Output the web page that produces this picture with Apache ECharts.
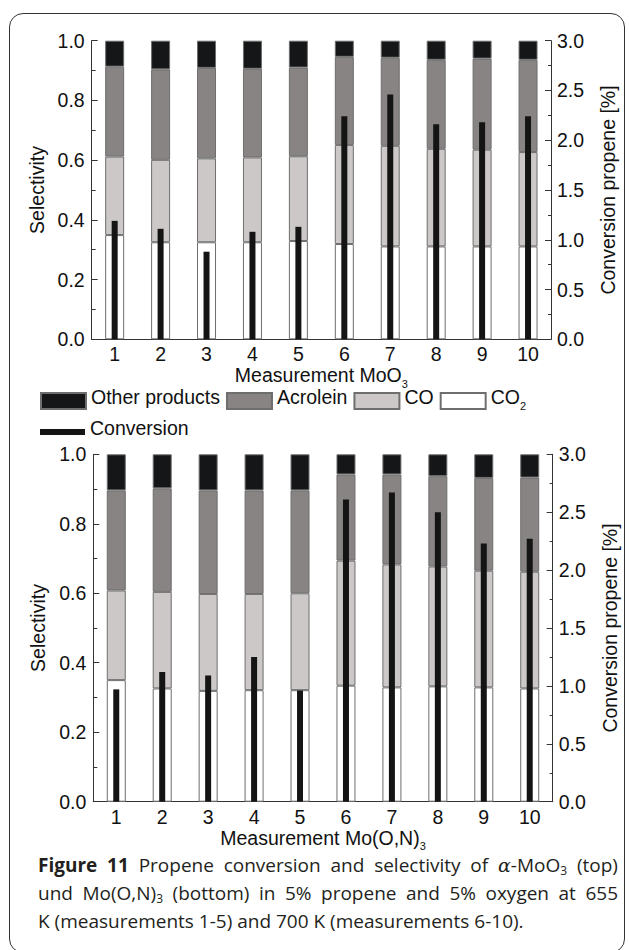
<!DOCTYPE html>
<html>
<head>
<meta charset="utf-8">
<script src="https://cdn.jsdelivr.net/npm/echarts@6/dist/echarts.min.js"></script>
<style>
  html, body { margin: 0; padding: 0; background: #fff; }
  #wrap { position: relative; width: 629px; height: 950px; overflow: hidden; }
  #chart { position: absolute; left: 0; top: 0; width: 629px; height: 950px; }
  #frame { position: absolute; left: 9px; top: 13px; width: 616px; height: 940px;
           border: 1.5px solid #333; border-radius: 14px; box-sizing: border-box; pointer-events: none; }
  #caption { position: absolute; left: 38px; top: 851px; width: 580px; font-family: "Open Sans", sans-serif;
             font-size: 19px; line-height: 28px; color: #231f20; }
  #caption .j { text-align: justify; text-align-last: justify; white-space: nowrap; }
  #caption .l { text-align: left; white-space: nowrap; }
  #caption b { font-weight: 700; }
  #caption sub { font-size: 12px; vertical-align: -3px; line-height: 0; }
</style>
</head>
<body>
<div id="wrap">
  <div id="chart"></div>
  <div id="frame"></div>
  <div id="caption">
    <div class="j"><b>Figure 11</b> Propene conversion and selectivity of <i style="font-family:'DejaVu Serif',serif">α</i>-MoO<sub>3</sub> (top)</div>
    <div class="j">und Mo(O,N)<sub>3</sub> (bottom) in 5% propene and 5% oxygen at 655</div>
    <div class="l">K (measurements 1-5) and 700 K (measurements 6-10).</div>
  </div>
</div>
<script>
// ---- data ----
const categories = ['1', '2', '3', '4', '5', '6', '7', '8', '9', '10'];
const selectivityTicks = [0, 0.2, 0.4, 0.6, 0.8, 1.0];
const conversionTicks = [0, 0.5, 1.0, 1.5, 2.0, 2.5, 3.0];

// top panel: alpha-MoO3
const co2Top       = [0.349, 0.325, 0.325, 0.325, 0.329, 0.319, 0.311, 0.311, 0.311, 0.311];
const coTop        = [0.263, 0.276, 0.281, 0.284, 0.284, 0.332, 0.337, 0.327, 0.324, 0.316];
const acroleinTop  = [0.301, 0.303, 0.303, 0.297, 0.297, 0.295, 0.295, 0.298, 0.305, 0.309];
const otherTop     = [0.087, 0.096, 0.091, 0.094, 0.090, 0.054, 0.057, 0.064, 0.060, 0.064];
const conversionTop = [1.19, 1.11, 0.88, 1.08, 1.13, 2.24, 2.46, 2.16, 2.18, 2.24];

// bottom panel: Mo(O,N)3
const co2Bottom      = [0.350, 0.326, 0.319, 0.321, 0.321, 0.334, 0.329, 0.332, 0.329, 0.326];
const coBottom       = [0.258, 0.278, 0.279, 0.277, 0.279, 0.360, 0.354, 0.345, 0.336, 0.336];
const acroleinBottom = [0.288, 0.298, 0.298, 0.298, 0.296, 0.248, 0.259, 0.260, 0.267, 0.271];
const otherBottom    = [0.104, 0.098, 0.104, 0.104, 0.104, 0.058, 0.058, 0.063, 0.068, 0.067];
const conversionBottom = [0.97, 1.12, 1.09, 1.25, 0.96, 2.61, 2.67, 2.50, 2.23, 2.27];

// ---- styling ----
const FONT = 'Liberation Sans';
const FS = 19.5;
const AX = '#333';
const TXT = '#111';
const colors = { other: '#151617', acrolein: '#878483', co: '#cbc8c7', co2: '#ffffff', conv: '#141414' };
const border = { borderColor: '#6e6e6e', borderWidth: 1 };
const richSub = {
  m: { fontFamily: FONT, fontSize: FS, color: TXT, lineHeight: 20, padding: [0, 0, 4, 0], verticalAlign: 'bottom' },
  sub: { fontFamily: FONT, fontSize: 11, color: TXT, lineHeight: 11, verticalAlign: 'bottom' }
};

const chart = echarts.init(document.getElementById('chart'), null, { renderer: 'svg' });

const grids = [
  { left: 91.7, top: 40.7, width: 459.3, height: 298.6, outerBoundsMode: 'none', containLabel: false },
  { left: 93.3, top: 454.3, width: 459.4, height: 347.4, outerBoundsMode: 'none', containLabel: false }
];
const axisNames = ['{m|Measurement MoO}{sub|3}', '{m|Measurement Mo(O,N)}{sub|3}'];
const nameGaps = [12, 15];

const xAxis = [], yAxis = [];
grids.forEach((g, i) => {
  xAxis.push({
    type: 'category', gridIndex: i, data: categories, position: 'bottom',
    boundaryGap: true,
    axisLine: { lineStyle: { color: AX, width: 1 } },
    axisTick: { inside: true, length: 4, alignWithLabel: false, lineStyle: { color: AX } },
    axisLabel: { color: TXT, fontFamily: FONT, fontSize: FS, margin: 5 },
    name: axisNames[i], nameLocation: 'middle', nameGap: nameGaps[i],
    nameTextStyle: { color: TXT, fontFamily: FONT, fontSize: FS, rich: richSub }
  });
  xAxis.push({
    type: 'category', gridIndex: i, data: categories, position: 'top',
    boundaryGap: true,
    axisLine: { lineStyle: { color: AX, width: 1 } },
    axisTick: { inside: true, length: 4, alignWithLabel: false, lineStyle: { color: AX } },
    axisLabel: { show: false }
  });
  yAxis.push({
    type: 'value', gridIndex: i, min: selectivityTicks[0], max: selectivityTicks[selectivityTicks.length - 1], interval: 0.2,
    position: 'left',
    axisLine: { show: true, lineStyle: { color: AX, width: 1 } },
    axisTick: { show: true, inside: true, length: 6, lineStyle: { color: AX } },
    minorTick: { show: true, splitNumber: 2, length: 4, lineStyle: { color: AX } },
    splitLine: { show: false },
    axisLabel: { color: TXT, fontFamily: FONT, fontSize: FS, margin: 7, formatter: v => v.toFixed(1) },
    name: 'Selectivity', nameLocation: 'middle', nameGap: 42, nameRotate: 90,
    nameTextStyle: { color: TXT, fontFamily: FONT, fontSize: FS }
  });
  yAxis.push({
    type: 'value', gridIndex: i, min: conversionTicks[0], max: conversionTicks[conversionTicks.length - 1], interval: 0.5,
    position: 'right',
    axisLine: { show: true, lineStyle: { color: AX, width: 1 } },
    axisTick: { show: true, inside: true, length: 6, lineStyle: { color: AX } },
    minorTick: { show: true, splitNumber: 2, length: 3, lineStyle: { color: AX } },
    splitLine: { show: false },
    axisLabel: { color: TXT, fontFamily: FONT, fontSize: FS, margin: 6, formatter: v => v.toFixed(1) },
    name: 'Conversion propene [%]', nameLocation: 'middle', nameGap: 47, nameRotate: 90,
    nameTextStyle: { color: TXT, fontFamily: FONT, fontSize: FS }
  });
});

const panels = [
  { co2: co2Top, co: coTop, acr: acroleinTop, oth: otherTop, conv: conversionTop },
  { co2: co2Bottom, co: coBottom, acr: acroleinBottom, oth: otherBottom, conv: conversionBottom }
];
const series = [];
panels.forEach((p, i) => {
  const xi = i * 2, yi = i * 2;
  const st = 'stack' + i;
  series.push({ name: 'CO2', type: 'bar', xAxisIndex: xi, yAxisIndex: yi, stack: st, barWidth: 19, data: p.co2,
    itemStyle: Object.assign({ color: colors.co2 }, border) });
  series.push({ name: 'CO', type: 'bar', xAxisIndex: xi, yAxisIndex: yi, stack: st, barWidth: 19, data: p.co,
    itemStyle: Object.assign({ color: colors.co }, border) });
  series.push({ name: 'Acrolein', type: 'bar', xAxisIndex: xi, yAxisIndex: yi, stack: st, barWidth: 19, data: p.acr,
    itemStyle: Object.assign({ color: colors.acrolein }, border) });
  series.push({ name: 'Other products', type: 'bar', xAxisIndex: xi, yAxisIndex: yi, stack: st, barWidth: 19, data: p.oth,
    itemStyle: Object.assign({ color: colors.other }, border) });
  series.push({ name: 'Conversion', type: 'bar', xAxisIndex: xi + 1, yAxisIndex: yi + 1, barWidth: 6, data: p.conv,
    itemStyle: { color: colors.conv } });
});

const legendText = { color: TXT, fontFamily: FONT, fontSize: FS, rich: richSub };

chart.setOption({
  animation: false,
  backgroundColor: '#fff',
  grid: grids,
  xAxis, yAxis, series,
  legend: [
    { data: ['Other products', 'Acrolein', 'CO', 'CO2'], left: 40, top: 387, padding: 0, orient: 'horizontal',
      icon: 'rect', itemWidth: 45, itemHeight: 16, itemGap: 6, selectedMode: false,
      formatter: n => n === 'CO2' ? '{m|CO}{sub|2}' : '{m|' + n + '}', textStyle: legendText },
    { data: ['Conversion'], left: 40, top: 418, padding: 0, icon: 'rect', itemWidth: 45, itemHeight: 6,
      selectedMode: false, formatter: n => '{m|' + n + '}', textStyle: legendText }
  ]
});
</script>
</body>
</html>
